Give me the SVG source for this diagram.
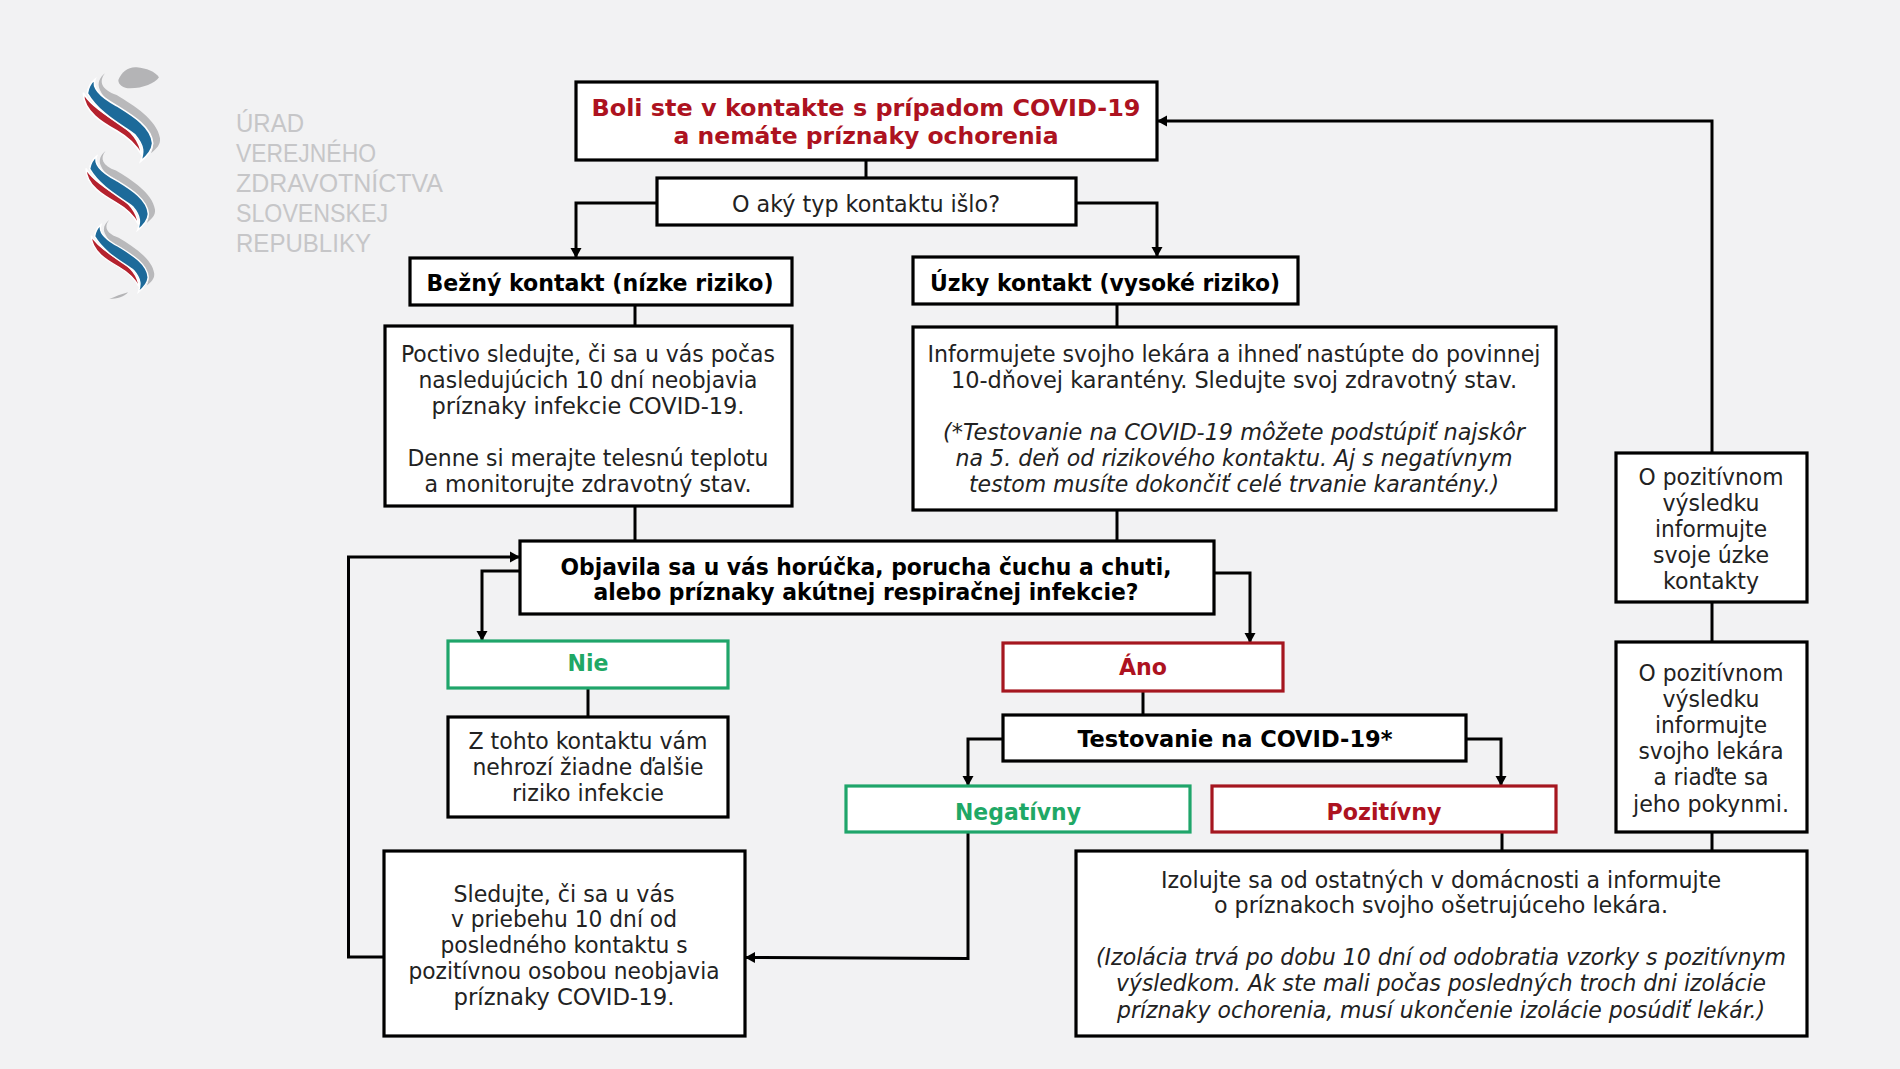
<svg xmlns="http://www.w3.org/2000/svg" width="1900" height="1069" viewBox="0 0 1900 1069">
<style>
text{font-family:"DejaVu Sans Condensed","DejaVu Sans",sans-serif;font-size:23px;fill:#222;text-anchor:middle;font-stretch:condensed}
.b{font-weight:700;fill:#000}
.i{font-style:italic}
.red{font-weight:700;fill:#ad1220}
.grn{font-weight:700;fill:#1fa866}
.k{fill:#fff;stroke:#000;stroke-width:3.2}
.g{fill:#fff;stroke:#1fa56a;stroke-width:3.2}
.r{fill:#fff;stroke:#a5161f;stroke-width:3.2}
.c{fill:none;stroke:#000;stroke-width:3}
text.logo{font-family:"Liberation Sans",sans-serif;font-size:26px;fill:#c6c6c8;text-anchor:start;font-stretch:normal}
.s{stroke:#fff;stroke-width:5}
</style>
<defs>
<marker id="a" markerUnits="userSpaceOnUse" markerWidth="14" markerHeight="14" refX="11" refY="6" orient="auto"><path d="M1,0.5L11,6L1,11.5Z" fill="#000"/></marker>
<g id="rib">
<path fill="#b9b9bb" d="M165,100C145,125 155,150 200,165C250,195 322,240 330,295C332,315 320,325 303,340C318,305 305,280 270,245C230,215 170,195 150,150C140,130 150,112 165,100Z"/>
<path class="s" fill="#b5222e" d="M100,158C115,190 160,220 200,245C240,268 270,300 275,345C262,320 240,295 200,272C160,250 100,215 100,158Z"/>
<path class="s" fill="#1d6a9a" d="M135,118C125,145 150,170 200,197C245,225 305,260 308,310C306,335 290,350 272,364C280,340 285,320 255,285C225,260 150,225 112,160C115,140 122,128 135,118Z"/>
</g>
</defs>
<rect width="1900" height="1069" fill="#f2f2f3"/>
<g id="logo">
<g transform="translate(50,40) scale(.3333)">
<path fill="#b4b4b6" d="M205,120C215,95 235,80 260,82C290,85 315,95 327,112C315,130 280,145 240,145C220,145 205,135 205,120Z"/>
<use href="#rib"/>
<use href="#rib" transform="translate(18,243) scale(.9)"/>
<use href="#rib" transform="translate(42,458) scale(.82)"/>
<path fill="#b4b4b6" d="M178,777C195,770 215,762 234,757C225,770 200,777 178,777Z"/>
</g>
<text class="logo" x="236" y="132" textLength="68" lengthAdjust="spacingAndGlyphs">ÚRAD</text>
<text class="logo" x="236" y="162" textLength="140" lengthAdjust="spacingAndGlyphs">VEREJNÉHO</text>
<text class="logo" x="236" y="192" textLength="207" lengthAdjust="spacingAndGlyphs">ZDRAVOTNÍCTVA</text>
<text class="logo" x="236" y="222" textLength="152" lengthAdjust="spacingAndGlyphs">SLOVENSKEJ</text>
<text class="logo" x="236" y="252" textLength="135" lengthAdjust="spacingAndGlyphs">REPUBLIKY</text>
</g>
<g id="connectors">
<path class="c" d="M866,160V178"/>
<path class="c" marker-end="url(#a)" d="M657,203H576V258"/>
<path class="c" marker-end="url(#a)" d="M1076,203H1157V257"/>
<path class="c" d="M635,305V326"/>
<path class="c" d="M1117,304V327"/>
<path class="c" d="M635,506V540"/>
<path class="c" d="M1117,510V540"/>
<path class="c" marker-end="url(#a)" d="M520,571H482V641"/>
<path class="c" marker-end="url(#a)" d="M1214,573H1250V643"/>
<path class="c" d="M588,688V717"/>
<path class="c" d="M1143,691V715"/>
<path class="c" marker-end="url(#a)" d="M1003,739H968V786"/>
<path class="c" marker-end="url(#a)" d="M1466,739H1501V786"/>
<path class="c" marker-end="url(#a)" d="M968,832V958.5L745,957.5"/>
<path class="c" d="M1502,832V851"/>
<path class="c" d="M1712,832V851"/>
<path class="c" d="M1712,602V641"/>
<path class="c" marker-end="url(#a)" d="M1712,453V121H1157"/>
<path class="c" marker-end="url(#a)" d="M384,957H348.500V557H520"/>
</g>
<g id="start"><rect class="k" x="576" y="82" width="581" height="78"/>
<text class="red" x="866" y="116" textLength="549" lengthAdjust="spacingAndGlyphs">Boli ste v kontakte s prípadom COVID-19</text>
<text class="red" x="866" y="144" textLength="385" lengthAdjust="spacingAndGlyphs">a nemáte príznaky ochorenia</text></g>
<g id="typ"><rect class="k" x="657" y="178" width="419" height="47"/>
<text x="866" y="212" textLength="268" lengthAdjust="spacingAndGlyphs">O aký typ kontaktu išlo?</text></g>
<g id="bezny"><rect class="k" x="410" y="258" width="382" height="47"/>
<text class="b" x="600" y="291" textLength="347" lengthAdjust="spacingAndGlyphs">Bežný kontakt (nízke riziko)</text></g>
<g id="uzky"><rect class="k" x="913" y="257" width="385" height="47"/>
<text class="b" x="1105" y="291" textLength="350" lengthAdjust="spacingAndGlyphs">Úzky kontakt (vysoké riziko)</text></g>
<g id="poctivo"><rect class="k" x="385" y="326" width="407" height="180"/>
<text x="588" y="362" textLength="374" lengthAdjust="spacingAndGlyphs">Poctivo sledujte, či sa u vás počas</text>
<text x="588" y="388" textLength="339" lengthAdjust="spacingAndGlyphs">nasledujúcich 10 dní neobjavia</text>
<text x="588" y="414" textLength="313" lengthAdjust="spacingAndGlyphs">príznaky infekcie COVID-19.</text>
<text x="588" y="466" textLength="361" lengthAdjust="spacingAndGlyphs">Denne si merajte telesnú teplotu</text>
<text x="588" y="492" textLength="327" lengthAdjust="spacingAndGlyphs">a monitorujte zdravotný stav.</text></g>
<g id="inform"><rect class="k" x="913" y="327" width="643" height="183"/>
<text x="1234" y="362" textLength="613" lengthAdjust="spacingAndGlyphs">Informujete svojho lekára a ihneď nastúpte do povinnej</text>
<text x="1234" y="388" textLength="566" lengthAdjust="spacingAndGlyphs">10-dňovej karantény. Sledujte svoj zdravotný stav.</text>
<text class="i" x="1234" y="440" textLength="582" lengthAdjust="spacingAndGlyphs">(*Testovanie na COVID-19 môžete podstúpiť najskôr</text>
<text class="i" x="1234" y="466" textLength="557" lengthAdjust="spacingAndGlyphs">na 5. deň od rizikového kontaktu. Aj s negatívnym</text>
<text class="i" x="1234" y="492" textLength="530" lengthAdjust="spacingAndGlyphs">testom musíte dokončiť celé trvanie karantény.)</text></g>
<g id="otazka"><rect class="k" x="520" y="541" width="694" height="73"/>
<text class="b" x="866" y="575" textLength="611" lengthAdjust="spacingAndGlyphs">Objavila sa u vás horúčka, porucha čuchu a chuti,</text>
<text class="b" x="866" y="600" textLength="545" lengthAdjust="spacingAndGlyphs">alebo príznaky akútnej respiračnej infekcie?</text></g>
<g id="nie"><rect class="g" x="448" y="641" width="280" height="47"/>
<text class="grn" x="588" y="671" textLength="41" lengthAdjust="spacingAndGlyphs">Nie</text></g>
<g id="ano"><rect class="r" x="1003" y="643" width="280" height="48"/>
<text class="red" x="1143" y="675" textLength="48" lengthAdjust="spacingAndGlyphs">Áno</text></g>
<g id="ztohto"><rect class="k" x="448" y="717" width="280" height="100"/>
<text x="588" y="749" textLength="239" lengthAdjust="spacingAndGlyphs">Z tohto kontaktu vám</text>
<text x="588" y="775" textLength="231" lengthAdjust="spacingAndGlyphs">nehrozí žiadne ďalšie</text>
<text x="588" y="801" textLength="152" lengthAdjust="spacingAndGlyphs">riziko infekcie</text></g>
<g id="test"><rect class="k" x="1003" y="715" width="463" height="46"/>
<text class="b" x="1235" y="747" textLength="315" lengthAdjust="spacingAndGlyphs">Testovanie na COVID-19*</text></g>
<g id="neg"><rect class="g" x="846" y="786" width="344" height="46"/>
<text class="grn" x="1018" y="820" textLength="126" lengthAdjust="spacingAndGlyphs">Negatívny</text></g>
<g id="poz"><rect class="r" x="1212" y="786" width="344" height="46"/>
<text class="red" x="1384" y="820" textLength="115" lengthAdjust="spacingAndGlyphs">Pozitívny</text></g>
<g id="sledujte"><rect class="k" x="384" y="851" width="361" height="185"/>
<text x="564" y="902" textLength="221" lengthAdjust="spacingAndGlyphs">Sledujte, či sa u vás</text>
<text x="564" y="927" textLength="226" lengthAdjust="spacingAndGlyphs">v priebehu 10 dní od</text>
<text x="564" y="953" textLength="247" lengthAdjust="spacingAndGlyphs">posledného kontaktu s</text>
<text x="564" y="979" textLength="311" lengthAdjust="spacingAndGlyphs">pozitívnou osobou neobjavia</text>
<text x="564" y="1005" textLength="221" lengthAdjust="spacingAndGlyphs">príznaky COVID-19.</text></g>
<g id="izolujte"><rect class="k" x="1076" y="851" width="731" height="185"/>
<text x="1441" y="888" textLength="560" lengthAdjust="spacingAndGlyphs">Izolujte sa od ostatných v domácnosti a informujte</text>
<text x="1441" y="913" textLength="454" lengthAdjust="spacingAndGlyphs">o príznakoch svojho ošetrujúceho lekára.</text>
<text class="i" x="1441" y="965" textLength="690" lengthAdjust="spacingAndGlyphs">(Izolácia trvá po dobu 10 dní od odobratia vzorky s pozitívnym</text>
<text class="i" x="1441" y="991" textLength="650" lengthAdjust="spacingAndGlyphs">výsledkom. Ak ste mali počas posledných troch dni izolácie</text>
<text class="i" x="1441" y="1018" textLength="648" lengthAdjust="spacingAndGlyphs">príznaky ochorenia, musí ukončenie izolácie posúdiť lekár.)</text></g>
<g id="kontakty"><rect class="k" x="1616" y="453" width="191" height="149"/>
<text x="1711" y="485" textLength="145" lengthAdjust="spacingAndGlyphs">O pozitívnom</text>
<text x="1711" y="511" textLength="97" lengthAdjust="spacingAndGlyphs">výsledku</text>
<text x="1711" y="537" textLength="112" lengthAdjust="spacingAndGlyphs">informujte</text>
<text x="1711" y="563" textLength="116" lengthAdjust="spacingAndGlyphs">svoje úzke</text>
<text x="1711" y="589" textLength="96" lengthAdjust="spacingAndGlyphs">kontakty</text></g>
<g id="lekar"><rect class="k" x="1616" y="642" width="191" height="190"/>
<text x="1711" y="681" textLength="145" lengthAdjust="spacingAndGlyphs">O pozitívnom</text>
<text x="1711" y="707" textLength="97" lengthAdjust="spacingAndGlyphs">výsledku</text>
<text x="1711" y="733" textLength="112" lengthAdjust="spacingAndGlyphs">informujte</text>
<text x="1711" y="759" textLength="145" lengthAdjust="spacingAndGlyphs">svojho lekára</text>
<text x="1711" y="785" textLength="115" lengthAdjust="spacingAndGlyphs">a riaďte sa</text>
<text x="1711" y="812" textLength="156" lengthAdjust="spacingAndGlyphs">jeho pokynmi.</text></g>
</svg>
